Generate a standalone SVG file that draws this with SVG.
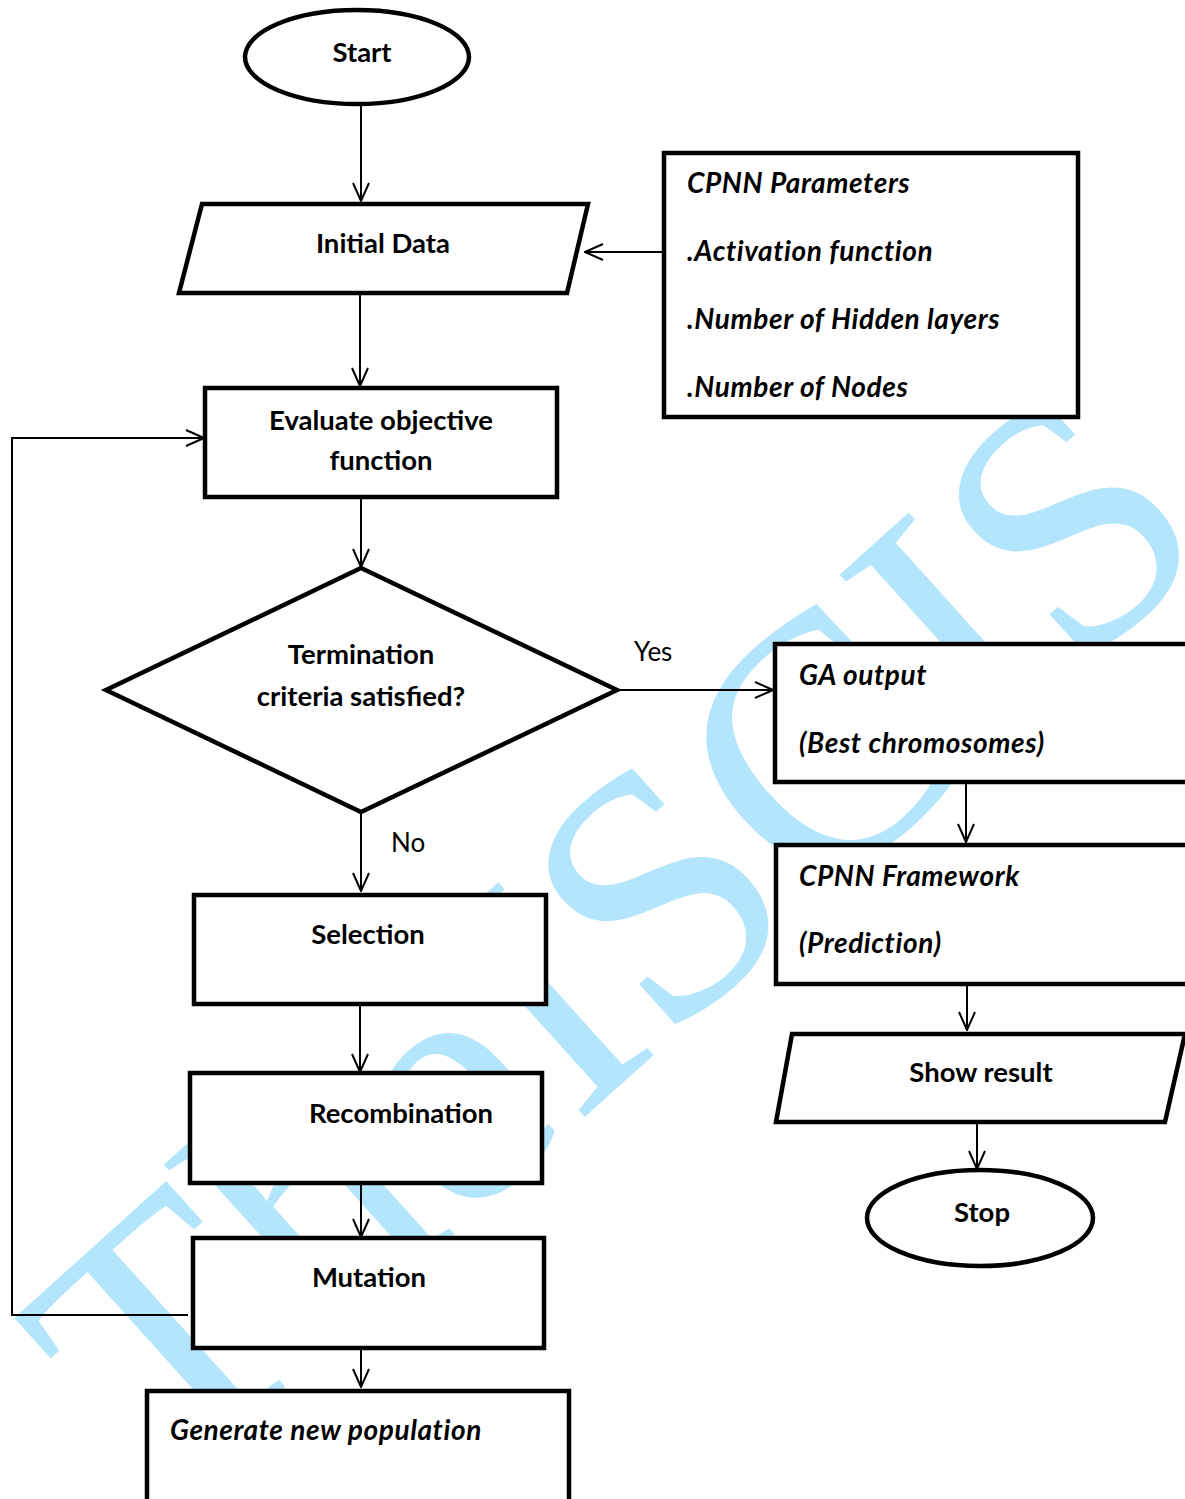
<svg xmlns="http://www.w3.org/2000/svg" width="1185" height="1499" viewBox="0 0 1185 1499">
<defs>
<marker id="arr" viewBox="0 0 20 20" refX="19" refY="10" markerWidth="20" markerHeight="20" markerUnits="userSpaceOnUse" orient="auto">
<path d="M1,2 L19,10 L1,18" fill="none" stroke="#000" stroke-width="2"/>
</marker>
<style>
.shape{fill:#fff;stroke:#000;stroke-width:4.5}
.lbl{font-family:Lato,"Liberation Sans",sans-serif;font-weight:bold;font-size:27.5px;fill:#000;text-anchor:middle}
.it{font-family:Lato,"Liberation Sans",sans-serif;font-weight:bold;font-style:italic;font-size:28px;letter-spacing:0.6px;fill:#000}
.reg{font-family:Lato,"Liberation Sans",sans-serif;font-size:26px;fill:#000}
.con{fill:none;stroke:#000;stroke-width:2;marker-end:url(#arr)}
.wm{font-family:"Liberation Serif","Times New Roman",serif;font-size:355px;fill:#b3e5fc}
</style>
</defs>
<rect width="1185" height="1499" fill="#fff"/>
<text class="wm" transform="translate(165,1495) rotate(-42)">TheISCIS</text>
<g id="connectors">
<line class="con" x1="361" y1="106" x2="361" y2="201"/>
<line class="con" x1="664" y1="252" x2="585" y2="252"/>
<line class="con" x1="360" y1="294" x2="360" y2="386"/>
<polyline class="con" points="188,1315 12,1315 12,438 204,438"/>
<line class="con" x1="361" y1="498" x2="361" y2="567"/>
<line class="con" x1="617" y1="690" x2="773" y2="690"/>
<line class="con" x1="361" y1="812" x2="361" y2="891"/>
<line class="con" x1="360" y1="1005" x2="360" y2="1072"/>
<line class="con" x1="361" y1="1184" x2="361" y2="1237"/>
<line class="con" x1="361" y1="1349" x2="361" y2="1387"/>
<line class="con" x1="966" y1="783" x2="966" y2="842"/>
<line class="con" x1="967" y1="985" x2="967" y2="1030"/>
<line class="con" x1="977" y1="1123" x2="977" y2="1169"/>
<text class="reg" x="634" y="661">Yes</text>
<text class="reg" x="391" y="852">No</text>
</g>
<g id="start">
<ellipse class="shape" cx="357" cy="57" rx="112" ry="47"/>
<text class="lbl" x="362" y="62">Start</text>
</g>
<g id="initial-data">
<polygon class="shape" points="202,204 588,204 567,293 179,293"/>
<text class="lbl" x="383" y="253">Initial Data</text>
</g>
<g id="cpnn-parameters">
<rect class="shape" x="664" y="153" width="414" height="264"/>
<text class="it" x="687" y="193">CPNN Parameters</text>
<text class="it" x="687" y="261">.Activation function</text>
<text class="it" x="687" y="329">.Number of Hidden layers</text>
<text class="it" x="687" y="397">.Number of Nodes</text>
</g>
<g id="evaluate">
<rect class="shape" x="205" y="388" width="352" height="109"/>
<text class="lbl" x="381" y="430">Evaluate objective</text>
<text class="lbl" x="381" y="470">function</text>
</g>
<g id="termination">
<polygon class="shape" points="361,568 617,690 361,812 106,690"/>
<text class="lbl" x="361" y="664">Termination</text>
<text class="lbl" x="361" y="706">criteria satisfied?</text>
</g>
<g id="selection">
<rect class="shape" x="194" y="895" width="352" height="109"/>
<text class="lbl" x="368" y="944">Selection</text>
</g>
<g id="recombination">
<rect class="shape" x="190" y="1073" width="352" height="110"/>
<text class="lbl" x="401" y="1123">Recombination</text>
</g>
<g id="mutation">
<rect class="shape" x="193" y="1238" width="351" height="110"/>
<text class="lbl" x="369" y="1287">Mutation</text>
</g>
<g id="generate">
<rect class="shape" x="147" y="1391" width="422" height="120"/>
<text class="it" x="170" y="1440">Generate new population</text>
</g>
<g id="ga-output">
<rect class="shape" x="775" y="644" width="430" height="138"/>
<text class="it" x="799" y="685">GA output</text>
<text class="it" x="799" y="753">(Best chromosomes)</text>
</g>
<g id="cpnn-framework">
<rect class="shape" x="776" y="845" width="430" height="139"/>
<text class="it" x="799" y="886">CPNN Framework</text>
<text class="it" x="799" y="953">(Prediction)</text>
</g>
<g id="show-result">
<polygon class="shape" points="792,1034 1185,1034 1165,1122 776,1122"/>
<text class="lbl" x="981" y="1082">Show result</text>
</g>
<g id="stop">
<ellipse class="shape" cx="980" cy="1218" rx="113" ry="48"/>
<text class="lbl" x="982" y="1222">Stop</text>
</g>
</svg>
